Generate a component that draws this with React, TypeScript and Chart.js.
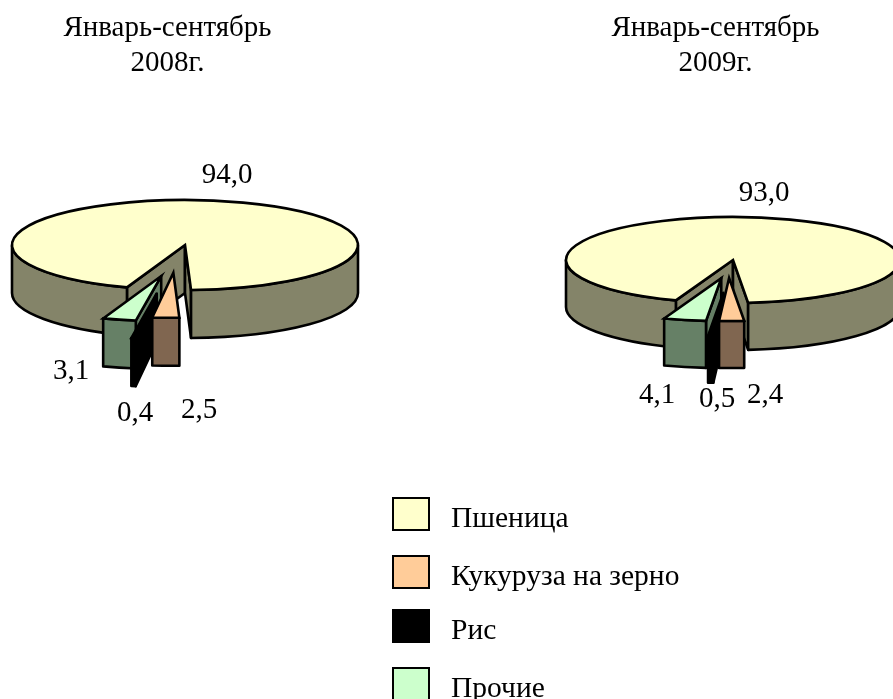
import React, { useEffect, useRef } from "react";
import { Chart, registerables } from "chart.js";

Chart.register(...registerables);

const categories = ["Пшеница", "Кукуруза на зерно", "Рис", "Прочие"];
const values2008 = [94.0, 2.5, 0.4, 3.1];
const values2009 = [93.0, 2.4, 0.5, 4.1];
const title2008 = ["Январь-сентябрь", "2008г."];
const title2009 = ["Январь-сентябрь", "2009г."];
const topColors = ["#FFFFCC", "#FFCC99", "#000000", "#CCFFCC"];
const wallColors = ["#848469", "#806650", "#000000", "#668066"];

const FONT = '"Liberation Serif"';
const FONT_SIZE = 29;
const LEGEND_FONT_SIZE = 29.5;
const LINE_WIDTH = 2.6;

const config2008 = {
  values: values2008,
  title: title2008,
  titleX: 167.5,
  cx: 185,
  cy: 245,
  radius: 173,
  squash: 0.26,
  depth: 48,
  rotation: 199.6,
  explode: [0, 107, 188, 123],
  nudgeX: [0, -7, -3, 6],
  labelPos: [[227, 175], [199, 410], [135, 413], [71, 371]],
};

const config2009 = {
  values: values2009,
  title: title2009,
  titleX: 715.5,
  cx: 733,
  cy: 260,
  radius: 167,
  squash: 0.2575,
  depth: 47,
  rotation: 200,
  explode: [0, 70, 128, 72],
  nudgeX: [0, -5, 0, 4],
  labelPos: [[764, 193], [765, 395], [717, 399], [657, 395]],
};

const legendRows = [497, 555, 609, 667];

function pie3dPlugin(cfg: typeof config2008) {
  const k = cfg.squash;
  const visibleWall = (s: number, e: number) => {
    const out: [number, number][] = [];
    for (let n = -1; n < 3; n++) {
      const lo = Math.max(s, 2 * Math.PI * n);
      const hi = Math.min(e, Math.PI + 2 * Math.PI * n);
      if (hi > lo) out.push([lo, hi]);
    }
    return out;
  };
  const stroke = (ctx: CanvasRenderingContext2D, join: CanvasLineJoin) => {
    ctx.lineWidth = LINE_WIDTH;
    ctx.strokeStyle = "#000000";
    ctx.lineJoin = join;
    ctx.stroke();
  };
  return {
    id: "pie3d",
    afterDatasetsUpdate(chart: any) {
      const arcs = chart.getDatasetMeta(0).data;
      arcs.forEach((a: any, i: number) => {
        const mid = (a.startAngle + a.endAngle) / 2;
        a.x = cfg.cx + Math.cos(mid) * cfg.explode[i] + cfg.nudgeX[i];
        // y is stored in un-squashed pie space around cy
        a.y = cfg.cy + Math.sin(mid) * cfg.explode[i];
      });
    },
    beforeDatasetDraw(chart: any) {
      const ctx: CanvasRenderingContext2D = chart.ctx;
      const arcs = chart.getDatasetMeta(0).data;
      const ay = (a: any) => cfg.cy + (a.y - cfg.cy) * k;
      const r = cfg.radius;
      const ry = r * k;
      // wheat first, then the pulled-out slices from back to front
      [0, 3, 2, 1].forEach((i) => {
        const a = arcs[i];
        const x = a.x;
        const y = ay(a);
        const s = a.startAngle;
        const e = a.endAngle;
        const face = (ang: number) => {
          const px = x + Math.cos(ang) * r;
          const py = y + Math.sin(ang) * ry;
          ctx.beginPath();
          ctx.moveTo(x, y);
          ctx.lineTo(px, py);
          ctx.lineTo(px, py + cfg.depth);
          ctx.lineTo(x, y + cfg.depth);
          ctx.closePath();
          ctx.fillStyle = wallColors[i];
          ctx.fill();
          stroke(ctx, "round");
        };
        if (-Math.cos(s) > 0) face(s);
        if (Math.cos(e) > 0) face(e);
        visibleWall(s, e).forEach(([lo, hi]) => {
          ctx.beginPath();
          ctx.ellipse(x, y, r, ry, 0, lo, hi);
          ctx.ellipse(x, y + cfg.depth, r, ry, 0, hi, lo, true);
          ctx.closePath();
          ctx.fillStyle = wallColors[i];
          ctx.fill();
          stroke(ctx, "round");
        });
      });
      ctx.save();
      ctx.translate(0, cfg.cy);
      ctx.scale(1, k);
      ctx.translate(0, -cfg.cy);
    },
    afterDatasetDraw(chart: any) {
      const ctx: CanvasRenderingContext2D = chart.ctx;
      ctx.restore();
      const arcs = chart.getDatasetMeta(0).data;
      const r = cfg.radius;
      arcs.forEach((a: any) => {
        const y = cfg.cy + (a.y - cfg.cy) * k;
        ctx.beginPath();
        ctx.moveTo(a.x, y);
        ctx.ellipse(a.x, y, r, r * k, 0, a.startAngle, a.endAngle);
        ctx.closePath();
        stroke(ctx, "miter");
      });
    },
    afterDraw(chart: any) {
      const ctx: CanvasRenderingContext2D = chart.ctx;
      ctx.save();
      ctx.fillStyle = "#000000";
      ctx.font = `${FONT_SIZE}px ${FONT}`;
      ctx.textAlign = "center";
      ctx.textBaseline = "middle";
      cfg.title.forEach((line, i) => ctx.fillText(line, cfg.titleX, 28 + i * 35));
      cfg.values.forEach((v, i) => {
        const [lx, ly] = cfg.labelPos[i];
        ctx.fillText(v.toFixed(1).replace(".", ","), lx, ly);
      });
      ctx.restore();
    },
  };
}

function Pie({ cfg }: { cfg: typeof config2008 }) {
  const ref = useRef<HTMLCanvasElement>(null);
  useEffect(() => {
    const chart = new Chart(ref.current!, {
      type: "pie",
      data: {
        labels: categories,
        datasets: [
          {
            data: cfg.values,
            backgroundColor: topColors,
            borderWidth: 0,
          },
        ],
      },
      options: {
        responsive: false,
        animation: false,
        events: [],
        rotation: cfg.rotation,
        radius: cfg.radius,
        plugins: { legend: { display: false }, tooltip: { enabled: false } },
      } as any,
      plugins: [pie3dPlugin(cfg)],
    });
    return () => chart.destroy();
  }, [cfg]);
  return (
    <canvas
      ref={ref}
      width={893}
      height={699}
      style={{ position: "absolute", left: 0, top: 0, width: 893, height: 699 }}
    />
  );
}

export default function App() {
  return (
    <div
      style={{
        position: "fixed",
        left: 0,
        top: 0,
        width: 893,
        height: 699,
        overflow: "hidden",
        background: "#ffffff",
        fontFamily: FONT,
        fontSize: LEGEND_FONT_SIZE,
        color: "#000",
      }}
    >
      <Pie cfg={config2008} />
      <Pie cfg={config2009} />
      {categories.map((c, i) => (
        <React.Fragment key={c}>
          <div
            style={{
              position: "absolute",
              left: 392,
              top: legendRows[i],
              width: 34,
              height: 30,
              border: "2px solid #000",
              background: topColors[i],
            }}
          />
          <div
            style={{
              position: "absolute",
              left: 451,
              top: legendRows[i] + 3,
              lineHeight: "34px",
              whiteSpace: "nowrap",
            }}
          >
            {c}
          </div>
        </React.Fragment>
      ))}
    </div>
  );
}
